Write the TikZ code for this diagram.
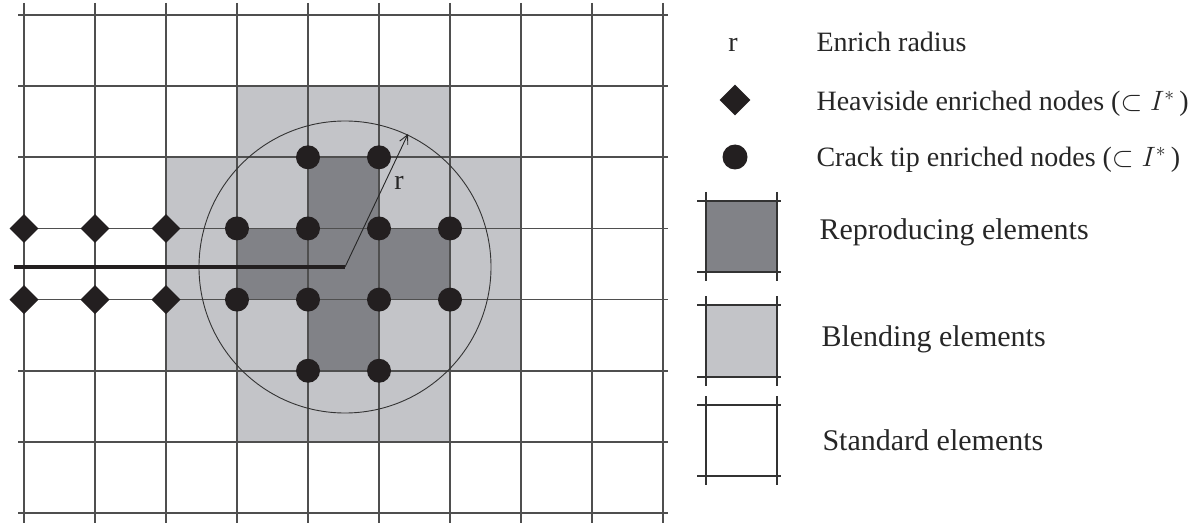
\RequirePackage{fix-cm}
\documentclass[tikz,border=0pt]{standalone}
\usepackage{fontspec}
\setmainfont{Liberation Serif}
\usetikzlibrary{arrows.meta,shapes.geometric}
\definecolor{repro}{HTML}{818287}
\definecolor{blend}{HTML}{C3C4C8}
\definecolor{gridc}{HTML}{4F4F4F}
\definecolor{nodec}{HTML}{231F20}
\begin{document}
\begin{tikzpicture}[x=1pt,y=-1pt,
  hline/.style={draw=gridc,line width=1.6pt},
  vline/.style={draw=gridc,line width=1.4pt},
  tipnode/.style={circle,fill=nodec,inner sep=0pt,minimum size=24pt},
  heavnode/.style={diamond,shape aspect=1,fill=nodec,inner sep=0pt,minimum size=29pt},
  lbl/.style={anchor=base west,font=\fontsize{28}{33}\selectfont,text=black!85},
  biglbl/.style={lbl,font=\fontsize{30}{35}\selectfont},
  legline/.style={draw=black!80,line width=1.5pt}]
\useasboundingbox (0,0) rectangle (1200,524);
% element fills
\fill[blend] (166,157) rectangle (521,371);
\fill[blend] (237,86) rectangle (450,442);
\fill[repro] (308,157) rectangle (379,371);
\fill[repro] (237,228.5) rectangle (450,299.6);
% grid
\foreach \i in {0,...,9} \draw[vline] ({24+71*\i},3) -- ({24+71*\i},523);
\foreach \j in {0,...,7} \draw[hline] (18,{15+71.15*\j}) -- (668,{15+71.15*\j});
% enrichment circle, crack and radius
\coordinate (tip) at (345,267);
\coordinate (crackstart) at (14,267);
\coordinate (rim) at (408,134);
\draw[draw=black!80,line width=0.9pt] (tip) circle[radius=146];
\draw[nodec,line width=4pt] (crackstart) -- (tip);
\draw[black!85,line width=0.9pt,-{Straight Barb[length=9pt,width=9pt]}] (tip) -- (rim);
\node[font=\fontsize{28}{33}\selectfont,text=black!85] (rlabel) at (399,183) {r};
% crack tip enriched nodes
\foreach \i/\j in {4/2,5/2,3/3,4/3,5/3,6/3,3/4,4/4,5/4,6/4,4/5,5/5}
  \node[tipnode] (c-\i-\j) at ({24+71*\i},{15+71.15*\j}) {};
% Heaviside enriched nodes
\foreach \i/\j in {0/3,1/3,2/3,0/4,1/4,2/4}
  \node[heavnode] (h-\i-\j) at ({24+71*\i},{15+71.15*\j}) {};
% legend
\node[font=\fontsize{28}{33}\selectfont,text=black!85,anchor=base] (legr) at (733,52) {r};
\node[lbl] (t1) at (813,52) {Enrich radius};
\node[heavnode,minimum size=31pt] (legh) at (735,100) {};
\node[lbl] (t2) at (813,111) {Heaviside enriched nodes ($\subset I^{*}$\,)};
\node[tipnode,minimum size=25pt] (legc) at (735,157) {};
\node[lbl] (t3) at (813,167) {Crack tip enriched nodes ($\subset I^{*}$\,)};
% legend squares
\fill[repro] (706,201) rectangle (777,272);
\fill[blend] (706,305) rectangle (777,377);
\foreach \ya/\yb in {201/272,305/377,405/476}{
  \draw[legline] (697,\ya) -- (781,\ya);
  \draw[legline] (697,\yb) -- (781,\yb);
  \draw[legline] (706,{\ya-9}) -- (706,{\yb+9});
  \draw[legline] (777,{\ya-9}) -- (777,{\yb+9});
}
\node[biglbl] (t4) at (816,240) {Reproducing elements};
\node[biglbl] (t5) at (818,346) {Blending elements};
\node[biglbl] (t6) at (819,450) {Standard elements};
\end{tikzpicture}
\end{document}
